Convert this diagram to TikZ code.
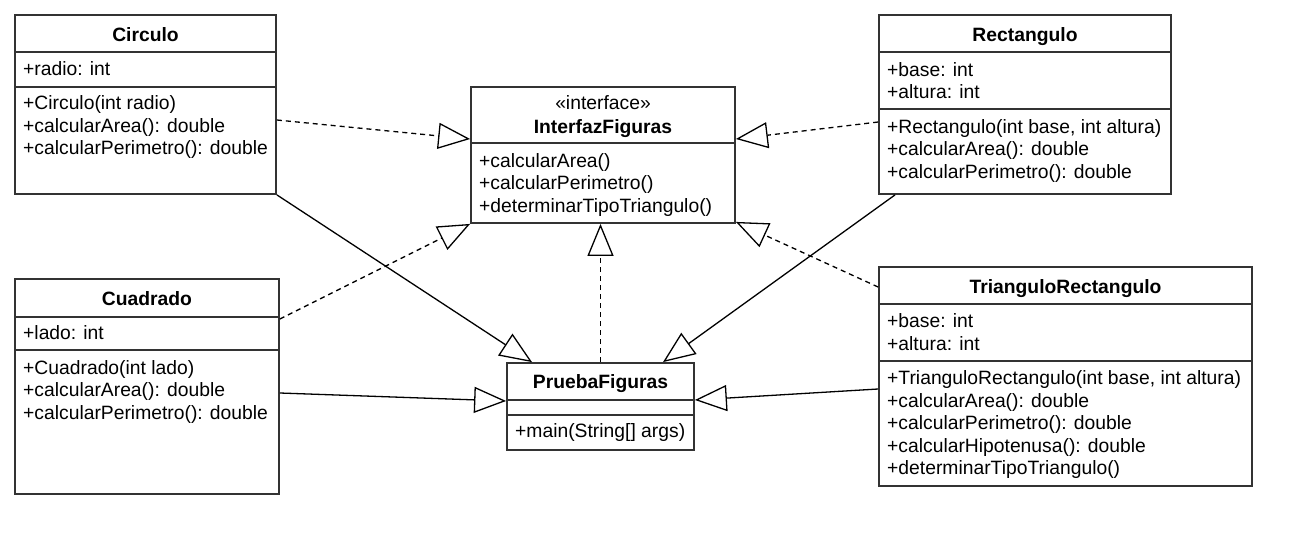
\documentclass[tikz,border=0pt]{standalone}
\usepackage{fontspec}
\setmainfont{Liberation Sans}
\usetikzlibrary{arrows.meta}
\definecolor{boxline}{RGB}{51,51,51}
\tikzset{
  classbox/.style={draw=boxline, line width=1.8pt, fill=white, inner sep=0pt},
  divider/.style={draw=boxline, line width=1.8pt},
  txt/.style={anchor=base west, inner sep=0pt, font=\fontsize{19.3pt}{22.5pt}\selectfont},
  ttl/.style={anchor=base, inner sep=0pt, font=\fontsize{19.3pt}{22.5pt}\selectfont\bfseries},
  stereo/.style={anchor=base, inner sep=0pt, font=\fontsize{19.3pt}{22.5pt}\selectfont},
  realize/.style={line width=1.3pt, dash pattern=on 5pt off 4pt, -{Triangle[open, length=32pt, width=26pt, line width=1.3pt]}},
  generalize/.style={line width=1.3pt, -{Triangle[open, length=32pt, width=26pt, line width=1.3pt]}}
}
\begin{document}
\begin{tikzpicture}[x=1pt, y=-1pt]
\useasboundingbox[fill=white] (0,0) rectangle (1312,555);

% Circulo
\node[classbox, minimum width=261pt, minimum height=179pt] (circ) at (145.5,104.5) {};
\draw[divider] (15,52) -- (276,52);
\draw[divider] (15,87) -- (276,87);
\node[ttl] (circT) at (145.5,41) {Circulo};
\node[txt] (circA1) at (23,75) {+radio: int};
\node[txt] (circM1) at (23,109.5) {+Circulo(int radio)};
\node[txt] (circM2) at (23,132) {+calcularArea(): double};
\node[txt] (circM3) at (23,154.5) {+calcularPerimetro(): double};

% InterfazFiguras
\node[classbox, minimum width=264pt, minimum height=136pt] (intf) at (603,155) {};
\draw[divider] (471,143) -- (735,143);
\node[stereo] (intfS) at (603,109) {«interface»};
\node[ttl] (intfT) at (603,133) {InterfazFiguras};
\node[txt] (intfM1) at (479,167) {+calcularArea()};
\node[txt] (intfM2) at (479,189.5) {+calcularPerimetro()};
\node[txt] (intfM3) at (479,212) {+determinarTipoTriangulo()};

% Rectangulo
\node[classbox, minimum width=292pt, minimum height=179pt] (rect) at (1025,104.5) {};
\draw[divider] (879,52) -- (1171,52);
\draw[divider] (879,109) -- (1171,109);
\node[ttl] (rectT) at (1025,41) {Rectangulo};
\node[txt] (rectA1) at (887,76) {+base: int};
\node[txt] (rectA2) at (887,98.5) {+altura: int};
\node[txt] (rectM1) at (887,133) {+Rectangulo(int base, int altura)};
\node[txt] (rectM2) at (887,155.5) {+calcularArea(): double};
\node[txt] (rectM3) at (887,178) {+calcularPerimetro(): double};

% TrianguloRectangulo
\node[classbox, minimum width=373pt, minimum height=219pt] (tri) at (1065.5,376.5) {};
\draw[divider] (879,304) -- (1252,304);
\draw[divider] (879,361) -- (1252,361);
\node[ttl] (triT) at (1065.5,293) {TrianguloRectangulo};
\node[txt] (triA1) at (887,327.5) {+base: int};
\node[txt] (triA2) at (887,350) {+altura: int};
\node[txt] (triM1) at (887,384.5) {+TrianguloRectangulo(int base, int altura)};
\node[txt] (triM2) at (887,407) {+calcularArea(): double};
\node[txt] (triM3) at (887,429.5) {+calcularPerimetro(): double};
\node[txt] (triM4) at (887,452) {+calcularHipotenusa(): double};
\node[txt] (triM5) at (887,474.5) {+determinarTipoTriangulo()};

% Cuadrado
\node[classbox, minimum width=264pt, minimum height=215pt] (cuad) at (147,386.5) {};
\draw[divider] (15,317) -- (279,317);
\draw[divider] (15,350) -- (279,350);
\node[ttl] (cuadT) at (147,305) {Cuadrado};
\node[txt] (cuadA1) at (23,339) {+lado: int};
\node[txt] (cuadM1) at (23,374) {+Cuadrado(int lado)};
\node[txt] (cuadM2) at (23,396.5) {+calcularArea(): double};
\node[txt] (cuadM3) at (23,419) {+calcularPerimetro(): double};

% PruebaFiguras
\node[classbox, minimum width=187pt, minimum height=87pt] (prueba) at (600.5,406.5) {};
\draw[divider] (507,400) -- (694,400);
\draw[divider] (507,415) -- (694,415);
\node[ttl] (pruebaT) at (600.5,388.5) {PruebaFiguras};
\node[txt] (pruebaM1) at (515,437.5) {+main(String[] args)};

% Realizations (dashed)
\draw[realize] ([yshift=-15.5pt]circ.east) -- ([yshift=16pt]intf.west);
\draw[realize] ([yshift=67.5pt]cuad.east) -- (intf.south west);
\draw[realize] (prueba.north) -- (prueba.north |- intf.south);
\draw[realize] ([yshift=-17.5pt]rect.west) -- ([yshift=16pt]intf.east);
\draw[realize] ([yshift=89.5pt]tri.west) -- ([yshift=2pt]intf.south east);

% Generalizations (solid)
\draw[generalize] (circ.south east) -- ([xshift=-68.5pt]prueba.north);
\draw[generalize] ([xshift=-130pt]rect.south) -- ([xshift=62.5pt]prueba.north);
\draw[generalize] ([yshift=-6.5pt]cuad.east) -- ([yshift=5.5pt]prueba.west);
\draw[generalize] ([yshift=-12.5pt]tri.west) -- ([yshift=6.5pt]prueba.east);
\end{tikzpicture}
\end{document}
